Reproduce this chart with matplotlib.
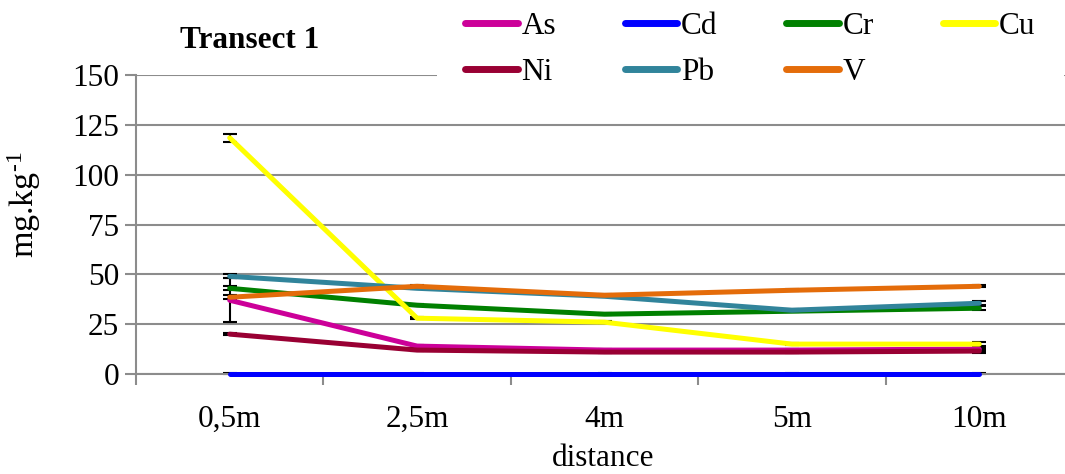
import matplotlib
matplotlib.use("Agg")
import matplotlib.pyplot as plt
import numpy as np

plt.rcParams['font.family'] = ['Liberation Serif', 'DejaVu Serif']
plt.rcParams['mathtext.fontset'] = 'custom'
plt.rcParams['mathtext.rm'] = 'Liberation Serif'
plt.rcParams['mathtext.it'] = 'Liberation Serif:italic'
plt.rcParams['mathtext.bf'] = 'Liberation Serif:bold'

# distances along the transect
distancias = ["0,5m", "2,5m", "4m", "5m", "10m"]

# mean concentrations (mg/kg)
As = [37, 14, 12, 12, 12.5]
Cd = [0.2, 0.2, 0.2, 0.2, 0.2]
Cr = [43, 34.5, 30, 31.5, 33]
Cu = [118.5, 28, 26, 15, 15]
Ni = [20, 12, 11, 11, 11.5]
Pb = [49, 43, 39, 32, 35.5]
V = [38.5, 44, 39.5, 42, 44]

# error bars (standard deviation)
err_As = [11, 0.5, 0.5, 0.5, 1]
err_Cd = [0.1, 0.1, 0.1, 0.1, 0.1]
err_Cr = [1, 0.5, 0.5, 0.5, 1]
err_Cu = [2, 0.5, 0.5, 0.5, 1]
err_Ni = [0.5, 0.5, 0.5, 0.5, 1]
err_Pb = [1, 0.5, 0.5, 0.5, 1]
err_V = [1, 0.5, 0.5, 0.5, 0.5]

series = [
    ("As", As, err_As, "#CC0099"),
    ("Cd", Cd, err_Cd, "#0000FF"),
    ("Cr", Cr, err_Cr, "#008000"),
    ("Cu", Cu, err_Cu, "#FFFF00"),
    ("Ni", Ni, err_Ni, "#990033"),
    ("Pb", Pb, err_Pb, "#31849B"),
    ("V", V, err_V, "#E46C0A"),
]

fs = 22.5

fig = plt.figure(figsize=(10.65, 4.74), dpi=100)
ax = fig.add_axes([136 / 1065, 100 / 474, 937 / 1065, 299 / 474])

x = np.arange(len(distancias))
lineas = {}
for nombre, vals, err, color in series:
    ax.errorbar(x, vals, yerr=err, fmt='none', ecolor='black', elinewidth=1.5,
                capsize=5, capthick=1.5, zorder=2, clip_on=False)
for nombre, vals, err, color in series:
    lineas[nombre], = ax.plot(x, vals, color=color, lw=3.6, label=nombre, zorder=3,
                              solid_capstyle='round', clip_on=False)

ax.set_xlim(-0.5, 4.5)
ax.set_ylim(0, 150)
ax.set_yticks([0, 25, 50, 75, 100, 125, 150])
ax.yaxis.grid(True, color='#8C8C8C', lw=1.5)
ax.set_axisbelow(True)

ax.set_xticks(x)
ax.set_xticklabels(distancias)
ax.set_xticks(np.arange(-0.5, 5, 1), minor=True)
ax.tick_params(axis='x', which='major', length=0, pad=22, labelsize=fs)
ax.tick_params(axis='x', which='minor', length=8, width=1.5, color='#8C8C8C')
ax.tick_params(axis='y', length=8, width=1.5, color='#8C8C8C', labelsize=fs, pad=4)

for s in ['top', 'right']:
    ax.spines[s].set_visible(False)
ax.spines['left'].set_color('#8C8C8C')
ax.spines['left'].set_linewidth(1.5)
ax.spines['bottom'].set_color('#8C8C8C')
ax.spines['bottom'].set_linewidth(1.5)

fig.text(24 / 1065, 1 - 205 / 474, r"mg.kg$^{\text{-1}}$", fontsize=24.5,
         rotation=90, ha='center', va='center')
fig.text(603 / 1065, 1 - 466 / 474, "distance", fontsize=fs, ha='center', va='baseline')

fig.text(250 / 1065, 1 - 40 / 474, "Transect 1", fontsize=fs, fontweight='bold',
         ha='center', va='center')

# orden para que la leyenda se lea por filas
orden = ["As", "Ni", "Cd", "Pb", "Cr", "V", "Cu"]
leg = fig.legend([lineas[n] for n in orden], orden,
                 loc='upper left', bbox_to_anchor=(437 / 1065, 1.035), ncol=4,
                 fontsize=fs, frameon=True, facecolor='white', edgecolor='none',
                 framealpha=1, handlelength=1.68, handletextpad=0.12,
                 columnspacing=2.2, borderaxespad=0, borderpad=0.9,
                 labelspacing=0.55)
for h in leg.get_lines():
    h.set_linewidth(5)

fig.savefig("out.png", dpi=100)
